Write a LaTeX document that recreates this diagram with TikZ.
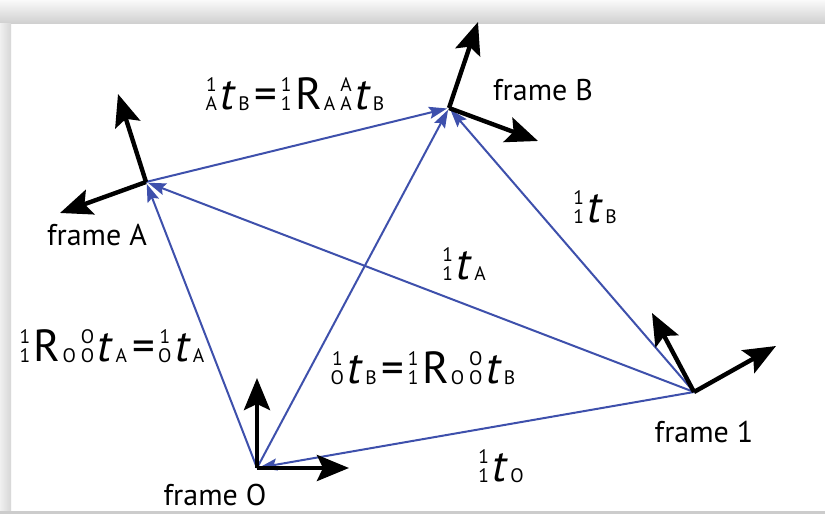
\documentclass[tikz,border=0pt]{standalone}
\usepackage{fontspec}
\setmainfont{PT Sans}
\usetikzlibrary{arrows.meta}
\definecolor{vblue}{RGB}{62,80,172}
\newcommand\scf{\fontsize{19.5}{20}\selectfont}
\newcommand\ps[2]{\ooalign{\hfil\raisebox{18.5pt}{\scf #1}\hfil\cr\hfil\raisebox{-1pt}{\scf #2}\hfil}\kern3.5pt}
\newcommand\subs[1]{\kern2pt\raisebox{-1pt}{\scf #1}}
\newcommand\eqs{\kern5pt=\kern3.5pt}
\newcommand\tv{\textit{t}}
\begin{document}
\begin{tikzpicture}[x=1pt,y=-1pt,
 axis/.style={line width=4.4pt, -{Stealth[length=32pt,width=26pt,inset=6pt]}},
 vec/.style={vblue, line width=2pt, -{Stealth[length=18pt,width=12pt,inset=3pt]}, shorten >=2pt},
 flabel/.style={font=\fontsize{30}{32}\selectfont, inner sep=0pt},
 mlabel/.style={font=\fontsize{45}{47}\selectfont, inner sep=0pt}]
% canvas and shadow border
\useasboundingbox (0,0) rectangle (825,518);
\fill[white] (0,0) rectangle (825,518);
\shade[top color=gray!4, bottom color=gray!38] (0,0) rectangle (825,24);
\shade[left color=gray!12, right color=gray!32] (0,24) rectangle (11,512);
\fill[gray!40] (0,511) rectangle (825,514);
% frame origins
\coordinate (O) at (257,468);
\coordinate (A) at (146,182);
\coordinate (B) at (449,108);
\coordinate (F) at (694,392);
% axis tips
\coordinate (Ou) at (257,378);
\coordinate (Or) at (349,468);
\coordinate (Au) at (118,94);
\coordinate (Al) at (60,213);
\coordinate (Bu) at (478,22);
\coordinate (Br) at (538,141);
\coordinate (Fu) at (652,313);
\coordinate (Fr) at (776,346);
% blue vectors
\draw[vec] (O) -- (A);
\draw[vec] (O) -- (B);
\draw[vec] (A) -- (B);
\draw[vec] (F) -- (A);
\draw[vec] (F) -- (B);
\draw[vec] (F) -- (O);
% black axes
\draw[axis] (O) -- (Ou);
\draw[axis] (O) -- (Or);
\draw[axis] (A) -- (Au);
\draw[axis] (A) -- (Al);
\draw[axis] (B) -- (Bu);
\draw[axis] (B) -- (Br);
\draw[axis] (F) -- (Fu);
\draw[axis] (F) -- (Fr);
% frame labels
\node[flabel] (lO) at (215,495) {frame O};
\node[flabel] (lA) at (97,235) {frame A};
\node[flabel] (lB) at (543,90) {frame B};
\node[flabel] (l1) at (704,432) {frame 1};
% vector labels
\node[mlabel] (tAB) at (295,94) {\ps{1}{A}\tv\subs{B}\eqs\ps{1}{1}R\subs{A}\kern5pt\ps{A}{A}\tv\subs{B}};
\node[mlabel] (t1B) at (595,207) {\ps{1}{1}\tv\subs{B}};
\node[mlabel] (t1A) at (464,264) {\ps{1}{1}\tv\subs{A}};
\node[mlabel] (tOA) at (112,346) {\ps{1}{1}R\subs{O}\kern5pt\ps{O}{O}\tv\subs{A}\eqs\ps{1}{O}\tv\subs{A}};
\node[mlabel] (tOB) at (423,368) {\ps{1}{O}\tv\subs{B}\eqs\ps{1}{1}R\subs{O}\kern5pt\ps{O}{O}\tv\subs{B}};
\node[mlabel] (t1O) at (501,466) {\ps{1}{1}\tv\subs{O}};
\end{tikzpicture}
\end{document}
